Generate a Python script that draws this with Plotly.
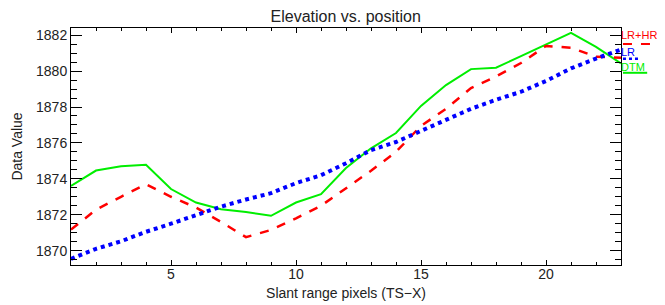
import plotly.graph_objects as go

x_pixels = list(range(1, 24))
lr_hr = [1871.17, 1872.28, 1873.0, 1873.7, 1873.0, 1872.4, 1871.6, 1870.75, 1871.15, 1871.8,
         1872.5, 1873.45, 1874.45, 1875.5, 1876.95, 1877.9, 1879.05, 1879.7, 1880.45, 1881.4,
         1881.3, 1880.8, 1880.74]
lr = [1869.54, 1870.1, 1870.52, 1871.05, 1871.5, 1871.96, 1872.45, 1872.85, 1873.2, 1873.76,
      1874.2, 1874.87, 1875.6, 1876.05, 1876.65, 1877.3, 1877.9, 1878.4, 1878.85, 1879.45,
      1880.15, 1880.7, 1881.2]
dtm = [1873.6, 1874.46, 1874.7, 1874.78, 1873.43, 1872.68, 1872.31, 1872.15, 1871.94, 1872.68,
       1873.15, 1874.6, 1875.7, 1876.55, 1878.06, 1879.22, 1880.11, 1880.19, 1880.83, 1881.5,
       1882.13, 1881.35, 1880.43]
x_ticks = [5, 10, 15, 20]
y_ticks = [1870, 1872, 1874, 1876, 1878, 1880, 1882]

RED = "#ff0000"
BLUE = "#0000ff"
GREEN = "#00ee00"
FONT = "Liberation Sans"

fig = go.Figure()
fig.add_trace(go.Scatter(x=x_pixels, y=dtm, mode="lines", name="DTM",
                         line=dict(color=GREEN, width=2)))
fig.add_trace(go.Scatter(x=x_pixels, y=lr_hr, mode="lines", name="LR+HR",
                         line=dict(color=RED, width=2.5, dash="dash")))
fig.add_trace(go.Scatter(x=x_pixels, y=lr, mode="lines", name="LR",
                         line=dict(color=BLUE, width=4, dash="dot")))

axis_common = dict(showgrid=False, zeroline=False, showline=True, linecolor="black",
                   linewidth=1, mirror="ticks", ticks="inside", tickcolor="black",
                   automargin=False,
                   tickfont=dict(family=FONT, size=14, color="#222"))

fig.update_xaxes(range=[1, 23], tickvals=x_ticks, ticklen=5, tickwidth=1,
                 ticklabelstandoff=-4,
                 minor=dict(dtick=1, tick0=0, ticks="inside", ticklen=3, tickcolor="black"),
                 title=dict(text="Slant range pixels (TS\u2212X)", standoff=7,
                            font=dict(family=FONT, size=14, color="#222")),
                 **axis_common)
fig.update_yaxes(range=[1869.2, 1882.4], tickvals=y_ticks, ticklen=11, tickwidth=1,
                 minor=dict(dtick=0.5, tick0=0, ticks="inside", ticklen=6, tickcolor="black"),
                 title=dict(text="Data Value", standoff=10,
                            font=dict(family=FONT, size=14, color="#222")),
                 **axis_common)

# page body adds an 8px margin, so the figure is sized to fit the remaining window
fig.update_layout(
    width=657, height=297,
    margin=dict(l=63, r=44, t=20, b=40, autoexpand=False),
    paper_bgcolor="white", plot_bgcolor="white",
    showlegend=False,
    title=dict(text="Elevation vs. position", x=0.514, xanchor="center", y=0.972, yanchor="middle",
               font=dict(family=FONT, size=16, color="#222")),
)

# Right-side legend labels with line samples underneath
legend_items = [("LR+HR", RED, "dash", 2, 0.970, 0.932, 0.071),
                ("LR", BLUE, "dot", 2.5, 0.900, 0.870, 0.031),
                ("DTM", GREEN, "solid", 2, 0.837, 0.811, 0.044)]
for name, col, dash, w, ty, ly, ln in legend_items:
    fig.add_annotation(x=1.0036, y=ty, xref="paper", yref="paper", text=name, showarrow=False,
                       xanchor="left", yanchor="middle", xshift=-4,
                       font=dict(family=FONT, size=11, color=col))
    fig.add_shape(type="line", xref="paper", yref="paper", x0=1.0036, x1=1.0036 + ln,
                  y0=ly, y1=ly, line=dict(color=col, width=w, dash=dash))

fig.write_html("out.html")
